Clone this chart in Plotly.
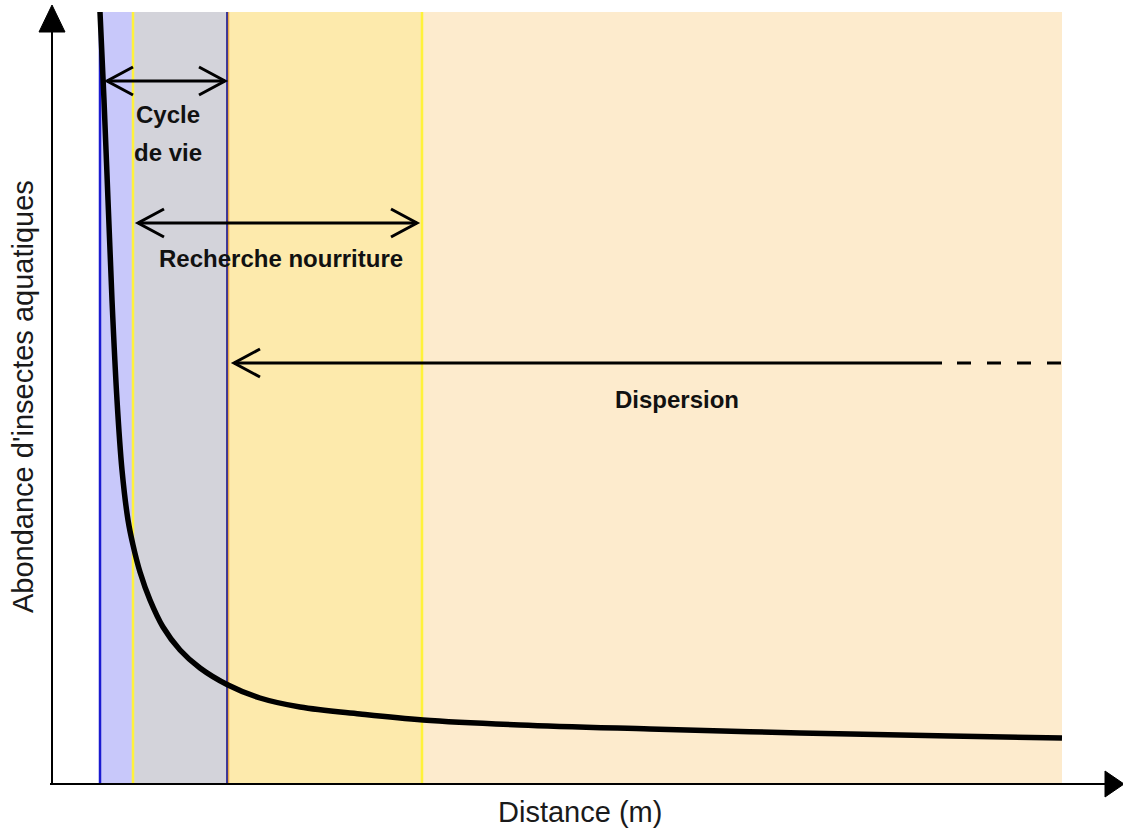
import plotly.graph_objects as go

# Abundance of aquatic insects as a function of distance from the stream
distance = [48, 52, 56, 60, 65, 70, 76, 81, 88, 98, 111, 128, 148, 176, 208, 248, 308, 371, 468, 598, 748, 898, 1010]
abundance = [771, 683, 583, 483, 383, 313, 263, 238, 211, 183, 156, 133, 115, 98, 85, 76, 69, 63, 58, 54, 50, 47, 45]

# Zone boundaries (distance) and fills
zone_edges = [48, 81, 176, 370, 1010]
zone_colors = ["#C8C8FA", "#D3D3DA", "#FDEAAC", "#FDEBCD"]
zone_top = 771

# Boundary lines: (distance, colour, width)
boundary_lines = [(48, "#1A1AD0", 2.5), (81, "#FFF23A", 2.5), (176, "#E9A94A", 2.5), (175, "#2E2A95", 1.8), (370, "#FFF23A", 2.5)]

# Range arrows: (start, end, level)
ranges = {
    "cycle": (55, 173, 702),
    "nourriture": (86, 365, 560),
    "dispersion": (182, 1010, 420),
}
dispersion_solid_end = 890

X_MIN, X_MAX = -52, 1071
Y_MIN, Y_MAX = -45, 783

fig = go.Figure()

shapes = []
for i, col in enumerate(zone_colors):
    shapes.append(dict(type="rect", xref="x", yref="y", x0=zone_edges[i], x1=zone_edges[i + 1],
                       y0=0, y1=zone_top, fillcolor=col, line=dict(width=0), layer="below"))
for xv, col, w in boundary_lines:
    shapes.append(dict(type="line", xref="x", yref="y", x0=xv, x1=xv, y0=0, y1=zone_top,
                       line=dict(color=col, width=w), layer="below"))

fig.add_trace(go.Scatter(x=distance, y=abundance, mode="lines",
                         line=dict(color="black", width=5.5, shape="spline", smoothing=1.0),
                         hoverinfo="skip", showlegend=False))

ARM_DX, ARM_DY = 26, 14


def chevron(tip_x, y, direction):
    # open arrowhead pointing left (direction=-1) or right (+1)
    bx = tip_x - direction * ARM_DX
    return dict(type="path", xref="x", yref="y",
                path=f"M {bx},{y + ARM_DY} L {tip_x},{y} L {bx},{y - ARM_DY}",
                line=dict(color="black", width=3))


def hline(x0, x1, y, dash="solid"):
    return dict(type="line", xref="x", yref="y", x0=x0, x1=x1, y0=y, y1=y,
                line=dict(color="black", width=3, dash=dash))


# Life cycle double arrow
a, b, lv = ranges["cycle"]
shapes += [hline(a, b, lv), chevron(a, lv, -1), chevron(b, lv, 1)]
# Foraging double arrow
a, b, lv = ranges["nourriture"]
shapes += [hline(a, b, lv), chevron(a, lv, -1), chevron(b, lv, 1)]
# Dispersion arrow, solid then dashed
a, b, lv = ranges["dispersion"]
shapes += [hline(a, dispersion_solid_end, lv), chevron(a, lv, -1),
           hline(dispersion_solid_end + 15, b, lv, dash="14px,16px")]

# Axes with filled arrowheads
shapes.append(dict(type="line", xref="x", yref="y", x0=0, x1=0, y0=0, y1=755,
                   line=dict(color="black", width=2)))
shapes.append(dict(type="path", xref="x", yref="y", path="M -13,751 L 13,751 L 0,778 Z",
                   fillcolor="black", line=dict(color="black", width=1)))
shapes.append(dict(type="line", xref="x", yref="y", x0=-2, x1=1055, y0=-1, y1=-1,
                   line=dict(color="black", width=2)))
shapes.append(dict(type="path", xref="x", yref="y", path="M 1053,12 L 1053,-14 L 1072,-1 Z",
                   fillcolor="black", line=dict(color="black", width=1)))

bold = dict(family="Liberation Sans, Arial, sans-serif", size=24, color="#111111")
title_font = dict(family="Liberation Sans, Arial, sans-serif", size=29, color="#1a1a1a")
annotations = [
    dict(x=116, y=669, text="<b>Cycle</b>", showarrow=False, font=bold, xanchor="center", yanchor="middle"),
    dict(x=116, y=631, text="<b>de vie</b>", showarrow=False, font=bold, xanchor="center", yanchor="middle"),
    dict(x=229, y=525, text="<b>Recherche nourriture</b>", showarrow=False, font=bold, xanchor="center", yanchor="middle"),
    dict(x=625, y=384, text="<b>Dispersion</b>", showarrow=False, font=bold, xanchor="center", yanchor="middle"),
    dict(x=528, y=-29, text="Distance (m)", showarrow=False, font=title_font,
         xanchor="center", yanchor="middle"),
    dict(x=-29, y=386, text="Abondance d'insectes aquatiques", showarrow=False, textangle=-90,
         font=title_font, xanchor="center", yanchor="middle"),
]

fig.update_layout(
    width=1123, height=828,
    margin=dict(l=0, r=0, t=0, b=0),
    paper_bgcolor="white", plot_bgcolor="white",
    xaxis=dict(range=[X_MIN, X_MAX], visible=False, fixedrange=True),
    yaxis=dict(range=[Y_MIN, Y_MAX], visible=False, fixedrange=True),
    shapes=shapes, annotations=annotations, showlegend=False,
)

fig.write_html("out.html")
